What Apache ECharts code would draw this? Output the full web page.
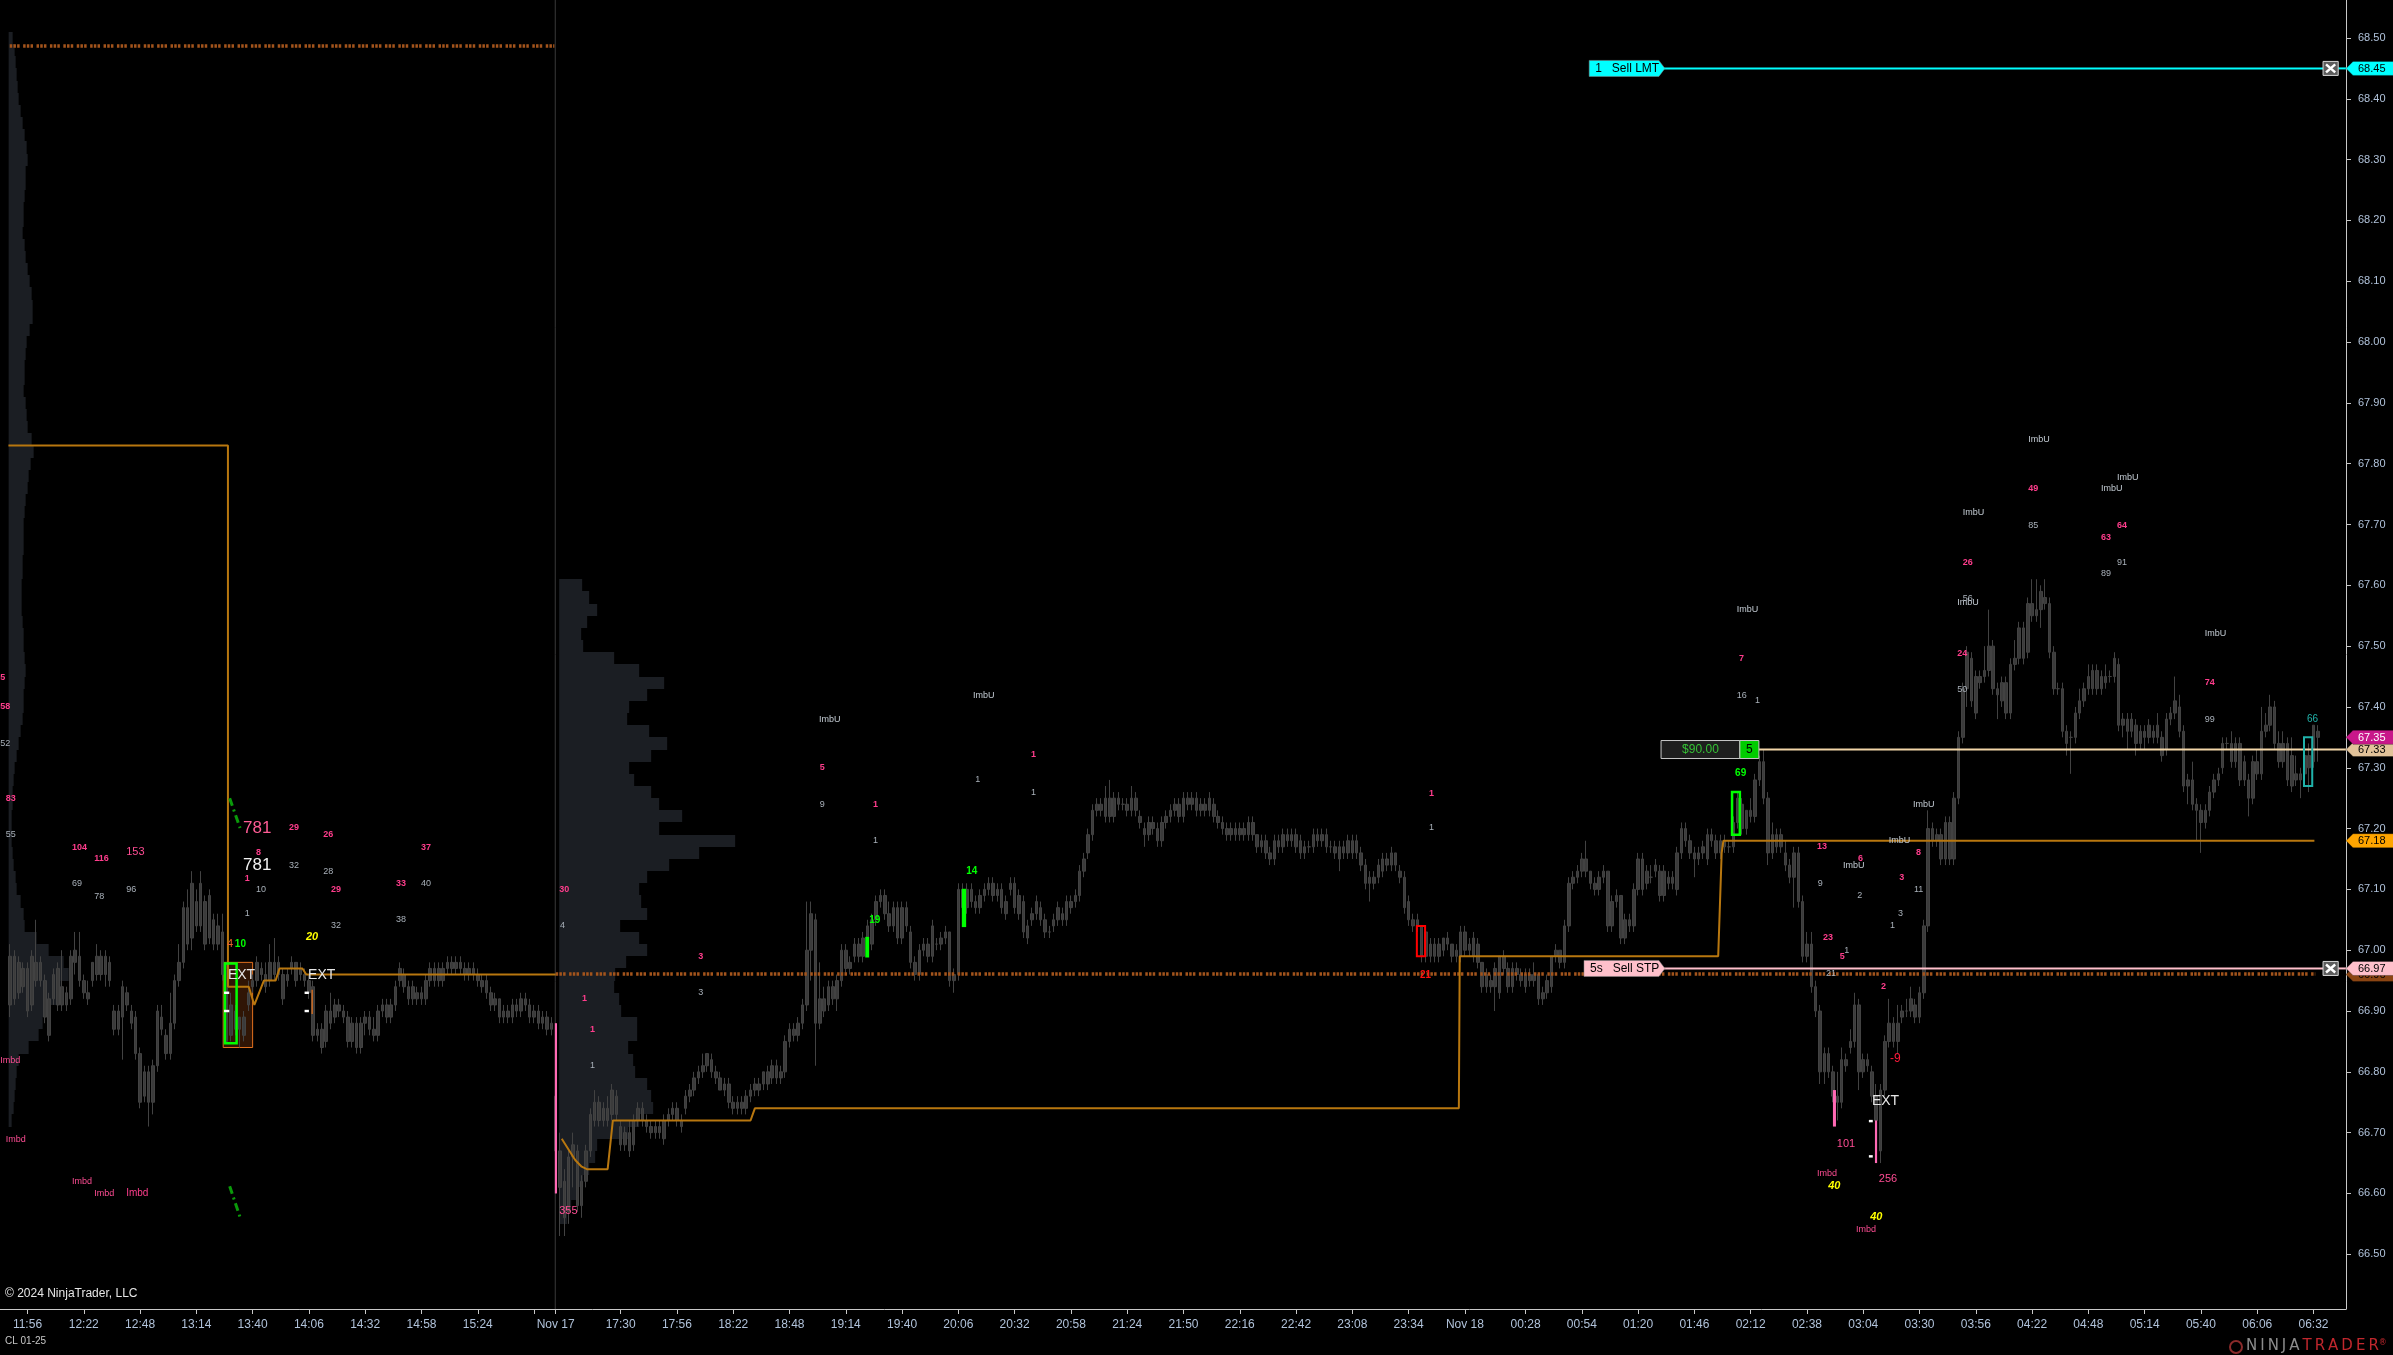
<!DOCTYPE html>
<html><head><meta charset="utf-8">
<script src="https://cdn.jsdelivr.net/npm/echarts@6/dist/echarts.min.js"></script>
<style>html,body{margin:0;padding:0;background:#000;overflow:hidden}#c{width:2393px;height:1355px}</style>
</head><body><div id="c"></div>
<script>
// ---------------- DATA ----------------
const BASE = 66.00; // candle values below are cents above this price
// sessions of 2-minute bars (Fri 15 Nov, Sun 17 Nov -> Mon 18 Nov), plus empty right margin
const sessions = [['11:48','15:58'],['17:00','23:58'],['00:00','06:46']];
// OHLC as [open, close, low, high] in cents above BASE, one per 2-min bar
const candleCents = [
[99,91,89,101],[92,99,91,100],[98,93,92,99],[94,97,93,98],[97,90,89,98],[91,99,90,100],[98,95,94,105],[95,98,94,99],[95,89,88,96],[92,86,85,93],
[92,96,91,97],[97,91,90,98],[91,94,90,100],[93,91,90,94],[92,99,91,100],[98,100,96,103],[99,95,94,103],[95,93,92,96],[93,92,91,95],[95,98,94,98],
[96,99,95,101],[99,96,95,100],[96,99,94,100],[98,95,94,99],[90,87,86,91],[87,90,86,91],[89,94,82,95],[93,91,90,94],[90,88,87,91],[89,83,82,90],
[83,75,74,84],[76,80,75,81],[80,75,71,81],[75,81,73,82],[81,90,80,91],[89,87,86,91],[86,83,82,87],[83,88,82,93],[88,95,87,96],[95,98,94,101],
[98,107,97,108],[107,101,100,110],[102,111,100,113],[108,104,103,110],[104,111,103,113],[108,101,100,109],[102,109,101,110],[105,101,100,106],[101,104,100,106],[103,96,95,106],
[97,85,85,98],[86,91,85,93],[90,87,86,91],[87,89,84,89],[89,86,85,90],[91,93,90,95],[94,95,93,96],[95,98,94,99],[97,96,95,98],[96,94,93,98],
[95,98,94,101],[98,96,95,102],[96,98,95,99],[96,92,91,97],[95,96,94,97],[97,98,96,99],[98,95,94,98],[96,97,95,98],[96,95,94,97],[95,93,92,96],
[94,86,85,95],[86,87,85,88],[87,84,83,88],[85,90,84,91],[90,88,87,93],[89,91,88,92],[91,90,89,92],[90,89,88,91],[89,85,84,90],[85,88,84,89],
[88,84,83,89],[84,88,83,89],[88,89,86,90],[89,87,86,90],[87,86,85,89],[86,90,85,91],[90,91,89,92],[91,89,88,92],[89,91,88,92],[91,94,90,95],
[95,97,94,98],[96,94,93,97],[94,92,91,95],[92,94,91,95],[93,92,91,94],[92,93,91,94],[92,95,91,96],[95,97,94,98],[97,95,94,98],[95,97,94,98],
[97,95,94,98],[97,98,96,99],[98,97,96,99],[97,98,96,99],[98,97,96,99],[97,96,95,98],[96,97,95,98],[97,96,95,98],[96,95,94,97],[95,94,93,96],
[95,93,92,96],[93,91,90,94],[91,92,90,93],[92,89,88,92],[89,90,88,91],[90,89,88,91],[89,91,88,92],[91,90,89,92],[90,92,89,93],[92,91,90,93],
[91,89,88,92],[89,90,88,91],[90,88,87,91],[88,89,87,90],[89,87,86,90],[87,88,86,89],
[76,67,60,78],[67,61,53,70],[62,56,53,64],[57,66,55,67],
[66,68,61,70],[67,58,57,68],[58,62,56,63],[62,67,61,68],[67,73,66,74],[72,75,71,77],[75,72,71,76],[72,74,71,75],[74,72,71,76],[73,77,72,78],
[76,73,72,77],[71,68,67,72],[68,70,67,71],[70,67,66,72],[68,72,67,73],[72,74,71,75],[74,72,71,75],[72,71,70,73],[71,70,69,72],[70,71,69,72],
[71,70,69,72],[69,72,68,73],[72,73,71,74],[73,74,72,75],[74,72,71,75],[72,71,70,73],[74,76,73,77],[76,77,75,78],[77,79,76,80],[79,80,78,81],
[80,81,79,83],[81,83,80,83],[82,80,79,83],[80,79,78,81],[79,77,77,80],[77,78,76,79],[78,75,74,79],[75,74,73,76],[74,75,73,76],[75,74,73,76],
[74,76,73,77],[76,77,75,78],[77,78,76,79],[78,77,76,79],[78,80,77,80],[80,78,77,81],[79,81,78,82],[81,79,78,82],[79,80,78,81],[80,85,79,86],
[85,87,84,88],[87,86,85,88],[86,88,85,89],[88,91,87,92],[91,100,90,108],[100,106,95,108],[105,88,81,106],[88,92,87,98],[92,90,89,94],[91,94,90,95],
[94,92,91,95],[92,95,90,96],[95,100,94,101],[100,97,96,101],[97,98,96,99],[99,101,98,102],[101,99,98,102],[99,102,98,103],[102,104,101,105],[101,105,100,106],
[105,108,104,109],[108,109,107,110],[109,106,105,110],[106,104,103,108],[104,107,103,108],[107,102,101,108],[102,107,101,108],[107,104,103,108],[103,98,97,104],[98,96,95,99],
[96,100,95,101],[100,101,99,102],[101,99,98,102],[99,104,98,105],[101,101,100,102],[101,102,100,103],[102,103,101,104],[103,95,94,103],[95,96,93,97],[96,110,95,111],
[110,107,106,111],[107,110,106,111],[110,108,107,111],[108,107,106,109],[107,109,106,110],[109,110,108,111],[110,111,109,112],[111,109,108,112],[109,110,108,111],[110,107,106,111],
[108,106,105,109],[110,111,109,112],[111,107,106,112],[106,109,105,110],[108,103,102,109],[102,104,101,105],[105,106,104,107],[106,108,105,109],[107,105,104,108],[105,103,102,106],
[103,103,102,104],[104,105,103,106],[105,107,104,108],[106,105,104,107],[105,108,104,109],[108,107,106,109],[108,109,107,110],[109,113,108,114],[113,115,112,116],[116,119,115,120],
[119,123,118,124],[123,124,122,125],[124,123,122,125],[122,125,121,127],[125,122,121,128],[122,125,121,126],[125,124,123,126],[124,124,123,125],[124,123,122,125],[123,125,122,127],
[125,123,122,126],[122,121,120,123],[120,119,117,121],[119,121,118,122],[121,120,119,122],[120,118,117,121],[118,121,117,122],[121,122,120,123],[122,123,121,124],[123,124,122,125],
[124,122,121,125],[122,125,121,126],[125,124,123,126],[124,125,123,126],[125,123,122,126],[123,124,122,125],[124,123,122,125],[123,125,122,126],[124,122,121,125],[122,121,120,123],
[121,120,119,122],[120,119,118,121],[119,120,118,121],[120,119,118,121],[119,120,118,121],[120,119,118,121],[119,121,118,122],[121,119,118,122],[119,117,116,119],[117,118,116,119],
[118,116,115,119],[116,115,114,117],[115,118,114,119],[118,117,116,119],[117,119,116,120],[119,118,117,120],[118,119,117,120],[119,117,116,120],[118,116,115,119],[116,117,115,118],
[117,117,116,118],[117,119,116,120],[119,118,117,120],[118,119,117,120],[119,117,116,120],[117,117,116,118],[117,116,115,118],[115,117,113,118],[117,116,115,118],[116,118,115,119],
[118,116,115,119],[116,118,115,119],[116,114,113,117],[114,111,110,115],[111,112,108,113],[112,111,110,113],[112,114,111,115],[113,115,112,116],[115,114,113,116],[114,116,113,117],
[116,114,113,116],[113,112,111,114],[112,107,106,113],[108,105,104,109],[105,104,103,106],[104,105,103,106],[104,99,98,104],[99,103,98,103],[101,99,98,102],[99,101,98,102],
[101,99,98,102],[100,102,99,102],[101,102,100,103],[101,99,98,101],[99,100,98,101],[99,103,98,104],[103,100,99,104],[100,101,99,102],[99,102,98,103],[101,98,97,102],
[98,94,93,98],[94,96,93,97],[95,94,93,96],[94,97,90,98],[93,99,92,99],[99,97,96,100],[97,94,93,98],[94,97,93,98],[97,96,95,98],[96,95,94,97],
[94,96,93,97],[96,95,94,97],[95,96,94,98],[96,92,91,96],[92,93,91,94],[93,95,92,96],[94,99,93,99],[99,100,98,101],[100,98,97,100],[98,104,97,105],
[104,111,103,112],[111,112,110,113],[112,113,111,114],[113,115,112,116],[115,113,112,118],[113,111,110,113],[111,110,109,112],[110,112,109,113],[112,113,111,114],[113,104,103,113],
[104,108,103,109],[108,109,107,110],[109,102,101,109],[102,105,101,106],[105,104,103,106],[104,110,103,111],[110,115,109,116],[115,110,109,116],[111,113,110,114],[112,112,111,114],
[113,114,112,115],[113,109,108,114],[109,113,108,114],[112,111,110,113],[111,112,110,113],[110,116,109,117],[116,120,115,121],[120,118,117,121],[118,116,115,119],[116,115,112,117],
[115,116,114,117],[116,117,115,118],[115,119,114,120],[119,118,117,120],[118,116,115,119],[116,118,115,119],[118,117,116,119],[117,117,116,118],[117,121,116,122],[121,125,120,126],
[124,120,119,125],[120,123,119,123],[123,122,121,125],[122,128,121,129],[128,131,127,132],[131,125,124,133],[125,116,114,126],[116,119,115,121],[119,117,116,120],[117,119,116,120],
[116,114,113,118],[114,112,111,115],[112,116,107,117],[116,108,107,117],[108,99,98,109],[99,101,98,103],[101,94,93,103],[94,90,89,95],[90,80,78,91],[80,83,78,84],
[83,80,79,84],[80,76,75,81],[76,75,72,80],[75,82,74,84],[82,81,80,83],[84,85,83,87],[85,91,84,93],[91,80,77,92],[80,82,79,83],[82,81,80,83],
[80,76,75,81],[76,72,70,78],[77,67,65,78],[77,85,76,86],[85,88,84,92],[88,85,84,89],[85,88,83,91],[89,90,88,91],[90,90,89,92],[90,92,89,94],
[91,89,88,92],[89,93,88,94],[93,104,92,105],[104,120,103,123],[120,118,117,121],[118,119,117,120],[119,115,114,120],[115,121,114,122],[121,115,114,122],[115,125,114,126],
[125,135,124,136],[135,143,134,144],[143,149,140,150],[148,141,140,149],[145,139,138,146],[144,145,143,146],[145,146,144,150],[146,150,145,156],[150,143,142,151],[143,142,138,144],
[141,144,140,145],[144,139,138,145],[139,147,138,148],[147,148,146,151],[148,153,147,154],[153,148,147,154],[149,157,148,158],[157,155,154,161],[155,156,154,161],[156,159,153,160],
[158,157,156,161],[157,149,148,158],[149,143,142,150],[143,143,142,144],[143,136,135,144],[136,134,132,137],[135,135,129,136],[135,139,134,140],[139,141,138,143],[141,143,140,144],
[143,145,142,147],[143,146,142,147],[146,143,142,147],[143,145,142,146],[145,144,143,147],[145,145,144,146],[145,148,144,149],[147,137,136,148],[137,138,135,139],[138,136,133,139],
[136,138,135,139],[137,134,132,138],[134,136,133,137],[136,135,133,137],[135,137,134,138],[136,135,134,137],[135,137,134,139],[135,132,131,136],[133,138,132,139],[138,139,137,140],
[139,141,138,145],[140,136,135,142],[136,127,126,137],[127,128,124,129],[128,124,123,131],[124,123,118,125],[123,121,116,124],[121,123,120,124],[123,126,122,127],[126,128,125,129],
[128,129,127,130],[130,134,129,135],[134,134,133,135],[134,131,130,136],[131,134,130,135],[134,128,127,135],[128,131,127,132],[128,125,122,129],[125,131,124,132],[131,129,128,133],
[129,136,128,140],[136,137,135,139],[137,140,136,142],[140,134,133,141],[134,131,130,136],[131,134,130,136],[134,128,127,135],[127,132,126,135],[129,128,127,132],[128,129,125,130],
[129,132,128,133],[132,130,126,134],[131,137,130,137],[136,135,131,137]
];

// x-axis ticks (bar times) and their labels ('' = tick only)
const tickTimes  = ['11:56','12:22','12:48','13:14','13:40','14:06','14:32','14:58','15:24','15:50','17:00','17:30','17:56','18:22','18:48','19:14','19:40','20:06','20:32','20:58','21:24','21:50','22:16','22:42','23:08','23:34','00:00','00:28','00:54','01:20','01:46','02:12','02:38','03:04','03:30','03:56','04:22','04:48','05:14','05:40','06:06','06:32'];
const tickLabels = ['11:56','12:22','12:48','13:14','13:40','14:06','14:32','14:58','15:24','','Nov 17','17:30','17:56','18:22','18:48','19:14','19:40','20:06','20:32','20:58','21:24','21:50','22:16','22:42','23:08','23:34','Nov 18','00:28','00:54','01:20','01:46','02:12','02:38','03:04','03:30','03:56','04:22','04:48','05:14','05:40','06:06','06:32'];
// price axis labels
const yTickValues = [66.5,66.6,66.7,66.8,66.9,67.0,67.1,67.2,67.3,67.4,67.5,67.6,67.7,67.8,67.9,68.0,68.1,68.2,68.3,68.4,68.5];

// volume profiles: rows of 0.02 from the top price downward
const leftProfileTop = 68.50, leftProfileStart = -0.35;
const leftProfileVol = [4,6,7,8,9,10,12,14,16,18, 19,17,17,16,15,15,14,16,17,19, 21,23,24,24,21,18,17,16,16,15, 17,18,19,23,25,22,20,19,17,16, 15,15,15,14,14,13,13,13,14,15, 15,16,17,16,15,15,14,12,10,8, 6,5,4,4,3,3,3,4,5,7, 8,12,15,16,28,40,55,60,52,48, 40,34,30,20,10,8,7,6,5,3];
const midProfileTop = 67.60, midProfileStart = 126.8;
const midProfileVol = [23,30,38,28,22,24,55,80,105,88, 70,68,90,108,92,70,75,92,100,123, 100,176,140,110,88,80,82,88,61,80, 88,67,56,55,60,62,78,78,69,74, 76,88,92,94,80,69,38,36,30,24, 18,12,8];

// stop/trail step line [barIndex, price]
const stepFri = [[-0.4,67.83],[50.3,67.83],[50.3,66.94],[55.1,66.94],[56.4,66.91],[58.6,66.95],[61.3,66.95],[62.2,66.97],[67.5,66.97],[68.4,66.96],[126.0,66.96]];
const stepSun = [[127.4,66.69],[129.0,66.672],[130.5,66.655],[132.0,66.644],[133.2,66.64],[138.0,66.64],[139.2,66.72],[171.0,66.72],[172.0,66.74],[334.6,66.74],[334.8,66.99],[394.5,66.99],[395.3,67.16],[395.7,67.18],[532.2,67.18]];
const dottedTop = [[-0.1,68.487],[125.7,68.487]];
const dottedLow = [[126.0,66.961],[532.4,66.961]];
const sessionBreak = [[125.9,66.41],[125.9,68.5625]];
const greenDashA = [[50.7,67.250],[53.1,67.201]];
const greenDashB = [[50.7,66.612],[53.1,66.561]];

// order lines: [price, label, colour, labelStartBar, labelEndBar]
const orders = [[68.45,'1   Sell LMT','#00ffff',364.7,380.8],[66.97,'5s   Sell STP','#ffc0cb',363.5,380.8]];
const orderCancelBox = [534.2,537.7];
// position: [price, pnl text, qty, startBar, splitBar, endBar]
const position = [67.33,'$90.00','5',381.3,399.5,403.9];
// right-axis price markers: [price, text, fill, textColour]
const priceMarkers = [[66.96,'66.96','#8b4513','#000'],[66.97,'66.97','#ffc0cb','#000'],[67.18,'67.18','#ffa500','#000'],[67.33,'67.33','#e2c39a','#000'],[67.35,'67.35','#c8178a','#fff'],[68.45,'68.45','#00ffff','#000']];

// boxes / highlight bars: [bar1, bar2, price1, price2, kind]
const boxesBack = [[49.2,56.0,66.98,66.84,'orangeBox']];
const boxesFront = [
 [49.6,52.3,66.978,66.847,'greenOutline'],[324.9,326.8,67.04,66.99,'redOutline'],[397.7,399.5,67.26,67.19,'greenOutline'],[529.8,531.7,67.35,67.27,'tealOutline'],
 [197.5,198.4,67.022,66.988,'greenFill'],[219.8,220.8,67.101,67.038,'greenFill'],
 [125.8,126.3,66.88,66.60,'pinkFill'],[421.0,421.7,66.77,66.71,'pinkFill'],[430.7,431.2,66.72,66.65,'pinkFill'],
 [49.4,50.6,66.932,66.928,'whiteFill'],[49.4,50.6,66.902,66.898,'whiteFill'],[68.0,69.0,66.932,66.928,'whiteFill'],[68.0,69.0,66.902,66.898,'whiteFill'],
 [69.6,69.9,66.935,66.895,'orangeFill'],[429.3,430.2,66.721,66.717,'whiteFill'],[429.3,430.2,66.663,66.659,'whiteFill']
];

// text annotations: [bar, price, text, style]
const notes = [
 [-2.3,67.449,'5','p'],[-2.3,67.400,'58','p'],[-2.3,67.340,'52','g'],[-1.0,67.250,'83','p'],[-1.0,67.191,'55','g'],
 [14.3,67.169,'104','p'],[19.4,67.151,'116','p'],[26.8,67.161,'153','pm'],[14.3,67.110,'69','g'],[19.4,67.089,'78','g'],[26.8,67.100,'96','g'],
 [53.8,67.201,'781','P'],[64.4,67.201,'29','p'],[72.3,67.191,'26','p'],[56.8,67.161,'8','p'],[53.8,67.140,'781','W'],[64.4,67.140,'32','g'],[72.3,67.130,'28','g'],
 [54.2,67.118,'1','p'],[56.8,67.100,'10','g'],[74.1,67.100,'29','p'],[94.9,67.169,'37','p'],[89.1,67.110,'33','p'],[94.9,67.110,'40','g'],
 [54.2,67.061,'1','g'],[74.1,67.041,'32','g'],[89.1,67.051,'38','g'],[68.3,67.021,'20','y'],[50.1,67.010,'4','o'],[51.9,67.010,'10','G'],
 [50.3,66.959,'EXT','E'],[68.8,66.959,'EXT','E'],[126.8,67.100,'30','p'],[127.0,67.041,'4','g'],
 [-2.3,66.819,'Imbd','d'],[-1.0,66.689,'Imbd','d'],[14.3,66.620,'Imbd','d'],[19.4,66.600,'Imbd','d'],[26.8,66.600,'Imbd','dm'],
 [126.8,66.571,'355','pm'],[132.1,66.921,'1','p'],[133.9,66.870,'1','p'],[133.9,66.811,'1','g'],[158.9,66.990,'3','p'],[158.9,66.931,'3','g'],
 [186.8,67.380,'ImbU','u'],[187.0,67.301,'5','p'],[187.0,67.240,'9','g'],[199.3,67.240,'1','p'],[199.3,67.181,'1','g'],[198.4,67.049,'19','G'],
 [222.4,67.419,'ImbU','u'],[235.8,67.321,'1','p'],[222.9,67.280,'1','g'],[235.8,67.260,'1','g'],[220.8,67.130,'14','G'],
 [327.7,67.258,'1','p'],[327.7,67.201,'1','g'],[325.6,66.959,'21','r'],
 [398.8,67.561,'ImbU','u'],[399.3,67.480,'7','p'],[398.8,67.419,'16','g'],[403.0,67.410,'1','g'],[398.4,67.291,'69','G'],
 [417.3,67.171,'13','p'],[426.8,67.151,'6','p'],[423.3,67.140,'ImbU','u'],[417.5,67.110,'9','g'],[426.6,67.090,'2','g'],
 [433.9,67.181,'ImbU','u'],[440.2,67.161,'8','p'],[439.5,67.240,'ImbU','u'],[436.3,67.120,'3','p'],[439.7,67.100,'11','g'],[436.0,67.061,'3','g'],[434.2,67.041,'1','g'],
 [418.7,67.021,'23','p'],[423.6,67.000,'1','g'],[422.6,66.990,'5','p'],[419.4,66.962,'21','g'],[432.1,66.941,'2','p'],[434.2,66.822,'-9','R'],
 [430.0,66.752,'EXT','E'],[421.9,66.681,'101','pm'],[417.3,66.632,'Imbd','d'],[419.9,66.613,'40','y'],[431.6,66.623,'256','pm'],[429.6,66.561,'40','y'],[426.3,66.541,'Imbd','d'],
 [451.0,67.719,'ImbU','u'],[451.0,67.638,'26','p'],[451.0,67.579,'56','g'],[449.7,67.571,'ImbU','u'],[449.7,67.488,'24','p'],[449.7,67.429,'50','g'],
 [466.1,67.839,'ImbU','u'],[466.1,67.760,'49','p'],[466.1,67.699,'85','g'],[486.6,67.778,'ImbU','u'],[482.9,67.760,'ImbU','u'],[486.6,67.699,'64','p'],[482.9,67.678,'63','p'],
 [486.6,67.638,'91','g'],[482.9,67.620,'89','g'],[506.9,67.520,'ImbU','u'],[506.9,67.441,'74','p'],[506.9,67.380,'99','g'],[530.5,67.380,'66','t']
];

// ---------------- STYLE ----------------
const SANS = "'Liberation Sans', Arial, sans-serif";
const NARROW = "'Liberation Sans Narrow','Arial Narrow','Liberation Sans',Arial,sans-serif";
const NOTE_STYLE = {
 p:{fill:'#ff3d8c',size:9,weight:'bold'}, pm:{fill:'#ff4d94',size:11}, g:{fill:'#a9b1ba',size:9}, u:{fill:'#c4ccd4',size:9},
 d:{fill:'#ff4d94',size:9}, dm:{fill:'#ff3d8c',size:10}, P:{fill:'#ff5c95',size:17}, W:{fill:'#f2f2f2',size:17},
 y:{fill:'#ffff00',size:11,style:'italic',weight:'bold'}, o:{fill:'#e8602a',size:11}, G:{fill:'#00ff00',size:10,weight:'bold'},
 E:{fill:'#e6e6e6',size:14}, r:{fill:'#ff1010',size:10,weight:'bold'}, R:{fill:'#ff1a3c',size:12}, t:{fill:'#20b2aa',size:10}
};
const BOX_STYLE = {
 orangeBox:{fill:'rgba(80,35,8,0.6)',stroke:'#e0701e',lineWidth:1},
 greenOutline:{fill:'none',stroke:'#00ff00',lineWidth:2.5}, redOutline:{fill:'none',stroke:'#ff0000',lineWidth:2},
 tealOutline:{fill:'none',stroke:'#20b2aa',lineWidth:2}, greenFill:{fill:'#00ff00'}, pinkFill:{fill:'#ff69b4'},
 whiteFill:{fill:'#ffffff'}, orangeFill:{fill:'#e0701e'}
};
const PROFILE_COLOR = '#1b1e23';
const AXIS_COLOR = '#c8c8c8', LABEL_COLOR = '#b0c2da';
const DOT_COLOR = '#a3541c', DOT_TYPE = [2.5,1.2,2.5,1.2,2.5,3.5];

// ---------------- BUILD ----------------
function toMin(t){const [h,m]=t.split(':').map(Number);return h*60+m;}
function fmt(m){const h=Math.floor(m/60)%24, mm=m%60;return (h<10?'0':'')+h+':'+(mm<10?'0':'')+mm;}
const categories = [];
sessions.forEach(([a,b])=>{for(let m=toMin(a);m<=toMin(b);m+=2)categories.push(fmt(m));});
const NCAT = categories.length; // 540
const XMAX = NCAT - 0.5;
const labelMap = {}; tickTimes.forEach((t,i)=>labelMap[t]=tickLabels[i]);
const tickSet = new Set(tickTimes);
const candles = candleCents.map(c=>c.map(v=>+(BASE+v/100).toFixed(2)));

function profileData(top, start, vols){return vols.map((v,i)=>[start, +(top-i*0.02).toFixed(2), v]);}
function profileRender(params, api){
  const x0=api.value(0), p=api.value(1), vol=api.value(2);
  const a=api.coord([x0,p+0.01]), b=api.coord([x0,p-0.01]);
  const y1=Math.round(a[1]), y2=Math.round(b[1]);
  return {type:'rect',shape:{x:a[0],y:y1,width:vol,height:y2-y1},style:{fill:PROFILE_COLOR}};
}
function boxRender(list){return function(params, api){
  const b=list[params.dataIndex];
  const a=api.coord([b[0],b[2]]), c=api.coord([b[1],b[3]]);
  return {type:'rect',shape:{x:Math.min(a[0],c[0]),y:Math.min(a[1],c[1]),width:Math.abs(c[0]-a[0]),height:Math.abs(c[1]-a[1])},style:Object.assign({},BOX_STYLE[b[4]])};
};}
function noteRender(params, api){
  const n=notes[params.dataIndex], s=NOTE_STYLE[n[3]];
  const pt=api.coord([n[0],n[1]]);
  return {type:'text',x:pt[0],y:pt[1],style:{text:n[2],fill:s.fill,font:(s.style||'normal')+' '+(s.weight||'normal')+' '+s.size+'px '+SANS,align:'left',verticalAlign:'middle',textAlign:'left',textVerticalAlign:'middle'}};
}
function orderRender(params, api){
  const o=orders[params.dataIndex];
  const a=api.coord([o[3],o[0]]), b=api.coord([o[4],o[0]]);
  const c1=api.coord([orderCancelBox[0],o[0]]), c2=api.coord([orderCancelBox[1],o[0]]);
  const y=a[1], h=8, xh=7;
  return {type:'group',children:[
    {type:'polygon',shape:{points:[[a[0],y-h],[b[0],y-h],[b[0]+6,y],[b[0],y+h],[a[0],y+h]]},style:{fill:o[2],stroke:'#888',lineWidth:0.5}},
    {type:'text',x:a[0]+6,y:y+0.5,style:{text:o[1],fill:'#000',font:'12px '+SANS,align:'left',verticalAlign:'middle',textAlign:'left',textVerticalAlign:'middle'}},
    {type:'rect',shape:{x:c1[0],y:y-xh,width:c2[0]-c1[0],height:2*xh},style:{fill:'#5c5c5c',stroke:'#d8d8d8',lineWidth:1}},
    {type:'line',shape:{x1:c1[0]+3,y1:y-4,x2:c2[0]-3,y2:y+4},style:{stroke:'#ffffff',lineWidth:2.5}},
    {type:'line',shape:{x1:c1[0]+3,y1:y+4,x2:c2[0]-3,y2:y-4},style:{stroke:'#ffffff',lineWidth:2.5}}
  ]};
}
function positionRender(params, api){
  const p=position;
  const a=api.coord([p[3],p[0]]), m=api.coord([p[4],p[0]]), e=api.coord([p[5],p[0]]);
  const y=a[1], h=9;
  return {type:'group',children:[
    {type:'rect',shape:{x:a[0],y:y-h,width:m[0]-a[0],height:2*h},style:{fill:'#1e1e1e',stroke:'#c8c8c8',lineWidth:1}},
    {type:'text',x:(a[0]+m[0])/2,y:y+0.5,style:{text:p[1],fill:'#35c135',font:'12px '+SANS,align:'center',verticalAlign:'middle',textAlign:'center',textVerticalAlign:'middle'}},
    {type:'rect',shape:{x:m[0],y:y-h,width:e[0]-m[0],height:2*h},style:{fill:'#00cc00',stroke:'#c8c8c8',lineWidth:1}},
    {type:'text',x:(m[0]+e[0])/2,y:y+0.5,style:{text:p[2],fill:'#000',font:'12px '+SANS,align:'center',verticalAlign:'middle',textAlign:'center',textVerticalAlign:'middle'}}
  ]};
}
function markerRender(params, api){
  const m=priceMarkers[params.dataIndex];
  const pt=api.coord([XMAX,m[0]]);
  const x=pt[0], y=pt[1], h=7;
  return {type:'group',children:[
    {type:'polygon',shape:{points:[[x,y],[x+7,y-h],[x+48,y-h],[x+48,y+h],[x+7,y+h]]},style:{fill:m[2],stroke:'rgba(0,0,0,0.5)',lineWidth:0.6}},
    {type:'text',x:x+12,y:y+0.5,style:{text:m[1],fill:m[3],font:'11px '+SANS,align:'left',verticalAlign:'middle',textAlign:'left',textVerticalAlign:'middle'}}
  ]};
}
function lineSeries(data, color, width, type, z){
  return {type:'line',xAxisIndex:1,yAxisIndex:0,data:data,symbol:'none',silent:true,z:z||4,animation:false,
    lineStyle:{color:color,width:width,type:type||'solid'},emphasis:{disabled:true}};
}
function customSeries(data, render, z){
  return {type:'custom',xAxisIndex:1,yAxisIndex:0,coordinateSystem:'cartesian2d',data:data,renderItem:render,clip:false,silent:true,z:z,animation:false};
}
const sp = s => s.split('').join('\u2009');

const option = {
  backgroundColor:'#000',
  animation:false,
  grid:{left:8,right:47,top:0,bottom:46,show:false},
  xAxis:[
    {type:'category',data:categories,boundaryGap:true,
     axisLine:{show:true,onZero:false,lineStyle:{color:AXIS_COLOR,width:1}},
     axisTick:{show:true,alignWithLabel:true,length:5,interval:(i,v)=>tickSet.has(v),lineStyle:{color:AXIS_COLOR}},
     axisLabel:{show:true,interval:(i,v)=>!!labelMap[v],formatter:v=>labelMap[v]||'',color:LABEL_COLOR,fontSize:12,fontFamily:NARROW,margin:10},
     splitLine:{show:false}},
    {type:'value',min:-0.5,max:XMAX,show:false,axisLine:{show:false,onZero:false},axisTick:{show:false},axisLabel:{show:false},splitLine:{show:false}}
  ],
  yAxis:{type:'value',position:'right',min:66.41,max:68.5625,
    axisLine:{show:true,onZero:false,lineStyle:{color:AXIS_COLOR}},
    axisTick:{show:true,inside:false,length:5,customValues:yTickValues,lineStyle:{color:AXIS_COLOR}},
    axisLabel:{customValues:yTickValues,formatter:v=>v.toFixed(2),color:LABEL_COLOR,fontSize:11,fontFamily:SANS,margin:12},
    splitLine:{show:false}},
  graphic:[
    {type:'line',shape:{x1:0,y1:1309.5,x2:8,y2:1309.5},style:{stroke:AXIS_COLOR,lineWidth:1},silent:true},
    {type:'text',left:5,top:1288,style:{text:'© 2024 NinjaTrader, LLC',fill:'#e6e6e6',font:'12px '+NARROW},silent:true},
    {type:'text',left:5,top:1336,style:{text:'CL 01-25',fill:'#c8c8c8',font:'10px '+NARROW},silent:true},
    {type:'circle',shape:{cx:2236,cy:1347,r:6},style:{fill:'none',stroke:'#8a2a2a',lineWidth:2},silent:true},
    {type:'text',left:2246,top:1339,style:{text:'{a|'+sp('NINJA')+'\u2009}{b|'+sp('TRADER')+'}{c|®}',rich:{a:{fill:'#8c8c8c',font:'15px "DejaVu Sans"'},b:{fill:'#c0272d',font:'15px "DejaVu Sans"'},c:{fill:'#c0272d',font:'8px "DejaVu Sans"',verticalAlign:'top'}}},silent:true}
  ],
  series:[
    customSeries(profileData(leftProfileTop,leftProfileStart,leftProfileVol),profileRender,1),
    customSeries(profileData(midProfileTop,midProfileStart,midProfileVol),profileRender,1),
    lineSeries(sessionBreak,'#3a3a3a',1,'solid',1),
    customSeries(boxesBack.map(b=>[b[0],b[2]]),boxRender(boxesBack),2),
    {type:'candlestick',xAxisIndex:0,yAxisIndex:0,data:candles,barWidth:3,silent:true,z:3,animation:false,
     itemStyle:{color:'#3b3b3b',color0:'#3b3b3b',borderColor:'#424242',borderColor0:'#424242',borderWidth:1}},
    lineSeries(dottedTop,DOT_COLOR,3.5,DOT_TYPE,4),
    lineSeries(dottedLow,DOT_COLOR,3.5,DOT_TYPE,4),
    lineSeries(stepFri,'#b8770f',2,'solid',5),
    lineSeries(stepSun,'#b8770f',2,'solid',5),
    lineSeries(greenDashA,'#0a9a0a',3,[8,4,2,4],5),
    lineSeries(greenDashB,'#0a9a0a',3,[8,4,2,4],5),
    lineSeries([[orders[0][4]+1.2,68.45],[orderCancelBox[0],68.45]],'#00ffff',2,'solid',6),
    lineSeries([[orderCancelBox[1],68.45],[XMAX,68.45]],'#00ffff',2,'solid',6),
    lineSeries([[orders[1][4]+1.2,66.97],[orderCancelBox[0],66.97]],'#ffc0cb',2,'solid',6),
    lineSeries([[orderCancelBox[1],66.97],[XMAX,66.97]],'#ffc0cb',2,'solid',6),
    lineSeries([[position[5],67.33],[XMAX,67.33]],'#f2d5a8',2,'solid',6),
    customSeries(boxesFront.map(b=>[b[0],b[2]]),boxRender(boxesFront),7),
    customSeries(notes.map(n=>[n[0],n[1]]),noteRender,8),
    customSeries(orders.map(o=>[o[3],o[0]]),orderRender,9),
    customSeries([[position[3],position[0]]],positionRender,9),
    customSeries(priceMarkers.map(m=>[XMAX,m[0]]),markerRender,20)
  ]
};
const chart = echarts.init(document.getElementById('c'),null,{renderer:'canvas',width:2393,height:1355});
chart.setOption(option);
</script></body></html>
